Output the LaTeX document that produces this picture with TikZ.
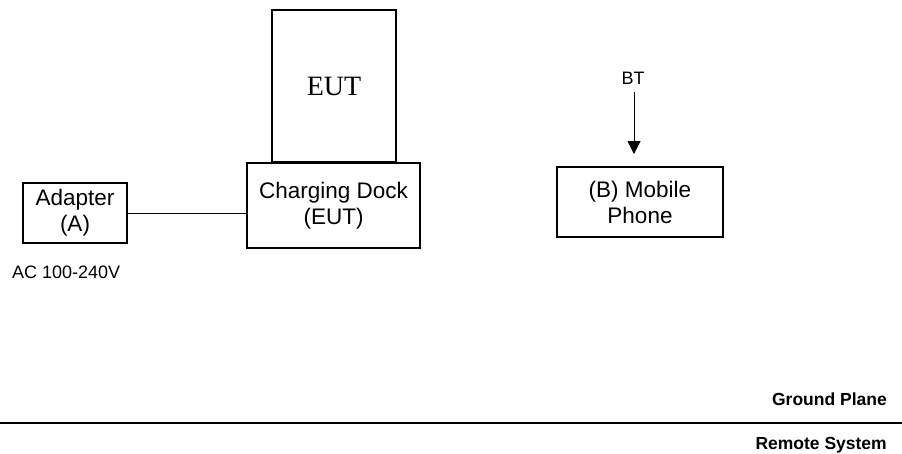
\documentclass[tikz,border=0pt]{standalone}
\usepackage{fontspec}
\setmainfont{Liberation Sans}
\newfontfamily\serifface{Liberation Serif}
\usetikzlibrary{arrows.meta}
\begin{document}
\begin{tikzpicture}[x=1pt,y=-1pt,
  box/.style={draw,line width=1.3pt,inner sep=0pt,align=center,
    font=\fontsize{22.5}{26}\selectfont},
  lbl/.style={inner sep=0pt,font=\fontsize{18}{20}\selectfont},
  boldlbl/.style={inner sep=0pt,font=\bfseries\fontsize{17.5}{20}\selectfont}]
\useasboundingbox (0,0) rectangle (902,453);
\node[box,minimum width=124pt,minimum height=152pt,font=\serifface\fontsize{28}{30}\selectfont] (eut) at (334,86) {EUT};
\node[box,minimum width=173pt,minimum height=85pt] (dock) at (333.5,205.5) {Charging Dock\\(EUT)};
\node[box,minimum width=104pt,minimum height=60pt] (adapter) at (75,213) {Adapter\\(A)};
\node[box,minimum width=166pt,minimum height=70pt] (mobile) at (640,202) {(B) Mobile\\Phone};
\node[lbl,anchor=base west] (ac) at (12,278) {AC 100-240V};
\node[lbl,anchor=base] (bt) at (633,84) {BT};
\coordinate (btend) at (634,154);
\draw[line width=1pt] (adapter.east) -- (dock.west |- adapter.east);
\draw[line width=1pt,-{Triangle[width=13pt,length=13pt]}] (634,92) -- (btend);
\draw[line width=1.8pt] (0,423) -- (902,423);
\node[boldlbl,anchor=base east] (gp) at (887,405) {Ground Plane};
\node[boldlbl,anchor=base east] (rs) at (887,449) {Remote System};
\end{tikzpicture}
\end{document}
